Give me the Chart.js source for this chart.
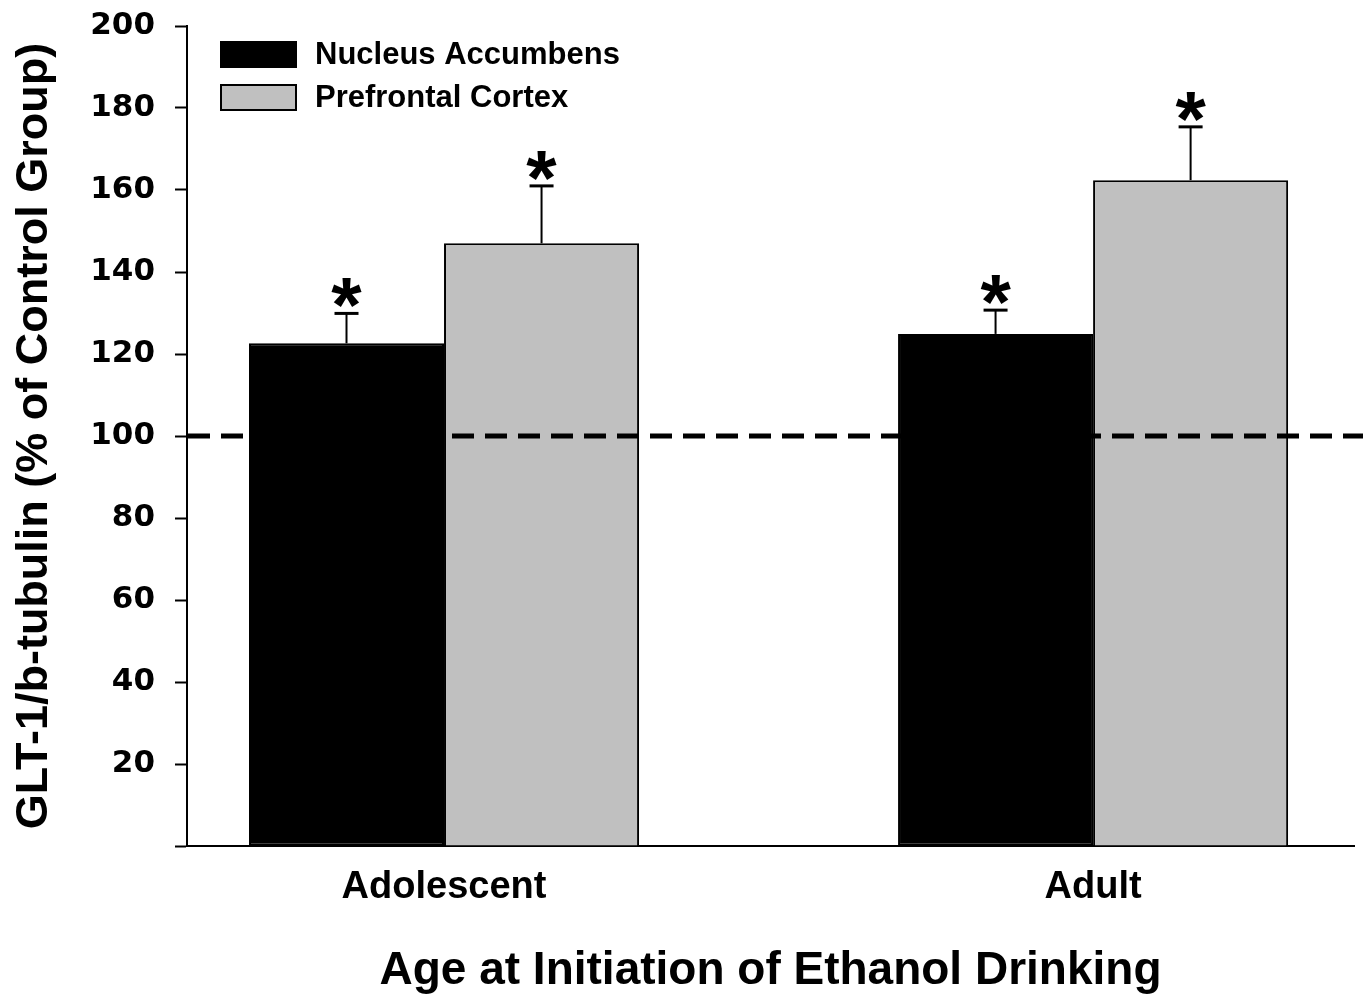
<!DOCTYPE html>
<html>
<head>
<meta charset="utf-8">
<script src="https://cdn.jsdelivr.net/npm/chart.js@4/dist/chart.umd.min.js"></script>
<style>
  html, body { margin: 0; padding: 0; background: #ffffff; }
  #wrap { width: 1363px; height: 994px; position: relative; }
</style>
</head>
<body>
<div id="wrap"><canvas id="c" width="1363" height="994"></canvas></div>
<script>
// ---- data ----
const categories = ['Adolescent', 'Adult'];
const seriesNames = ['Nucleus Accumbens', 'Prefrontal Cortex'];
const nucleusAccumbens = [122.6, 124.9];
const prefrontalCortex = [147.0, 162.4];
const nucleusAccumbensSEM = [7.3, 5.8];
const prefrontalCortexSEM = [14.0, 13.0];
const nucleusAccumbensSig = [true, true];
const prefrontalCortexSig = [true, true];
const yTicks = [0, 20, 40, 60, 80, 100, 120, 140, 160, 180, 200];
const controlLevel = 100;

const FONT = '"Liberation Sans", Arial, sans-serif';

const errs = [nucleusAccumbensSEM, prefrontalCortexSEM];
const sigs = [nucleusAccumbensSig, prefrontalCortexSig];

const overlay = {
  id: 'overlay',
  afterDatasetsDraw(chart) {
    const ctx = chart.ctx;
    const ys = chart.scales.y;
    const area = chart.chartArea;
    ctx.save();
    // error bars + asterisks
    chart.data.datasets.forEach((ds, di) => {
      const meta = chart.getDatasetMeta(di);
      meta.data.forEach((bar, i) => {
        const v = ds.data[i].y;
        const topY = ys.getPixelForValue(v + errs[di][i]);
        ctx.strokeStyle = '#000';
        ctx.lineWidth = 2;
        ctx.beginPath();
        ctx.moveTo(bar.x, bar.y);
        ctx.lineTo(bar.x, topY);
        ctx.stroke();
        ctx.lineWidth = 3;
        ctx.beginPath();
        ctx.moveTo(bar.x - 12, topY);
        ctx.lineTo(bar.x + 12, topY);
        ctx.stroke();
        if (sigs[di][i]) {
          ctx.font = 'bold 78px ' + FONT;
          ctx.fillStyle = '#000';
          ctx.textAlign = 'center';
          ctx.textBaseline = 'alphabetic';
          const m = ctx.measureText('*');
          const base = topY - 5 - m.actualBoundingBoxDescent;
          ctx.fillText('*', bar.x, base);
        }
      });
    });
    // dashed control line
    const yc = ys.getPixelForValue(controlLevel);
    ctx.strokeStyle = '#000';
    ctx.lineWidth = 5;
    ctx.setLineDash([22, 11]);
    ctx.beginPath();
    ctx.moveTo(area.left + 1, yc);
    ctx.lineTo(chart.width, yc);
    ctx.stroke();
    ctx.setLineDash([]);
    // legend
    chart.data.datasets.forEach((ds, di) => {
      const bx = area.left + 34;
      const by = area.top + 16 + di * 43;
      ctx.fillStyle = ds.backgroundColor;
      ctx.fillRect(bx, by, 75, 25);
      ctx.lineWidth = 2;
      ctx.strokeStyle = '#000';
      ctx.strokeRect(bx, by, 75, 25);
      ctx.fillStyle = '#000';
      ctx.font = 'bold 31px ' + FONT;
      ctx.textAlign = 'left';
      ctx.textBaseline = 'middle';
      ctx.fillText(ds.label, bx + 94, by + 13);
    });
    ctx.restore();
  }
};

new Chart(document.getElementById('c'), {
  type: 'bar',
  data: {
    datasets: [
      {
        label: seriesNames[0],
        data: nucleusAccumbens.map((v, i) => ({ x: i, y: v })),
        backgroundColor: '#000000',
        borderColor: '#000000',
        borderWidth: 2,
        borderSkipped: false
      },
      {
        label: seriesNames[1],
        data: prefrontalCortex.map((v, i) => ({ x: i, y: v })),
        backgroundColor: '#c0c0c0',
        borderColor: '#000000',
        borderWidth: 2,
        borderSkipped: 'bottom'
      }
    ]
  },
  options: {
    responsive: false,
    animation: false,
    devicePixelRatio: 1,
    categoryPercentage: 0.601,
    barPercentage: 1.0,
    layout: { padding: { top: 26, right: 9, left: 0, bottom: 0 } },
    plugins: {
      legend: { display: false },
      tooltip: { enabled: false },
      title: { display: false }
    },
    scales: {
      x: {
        type: 'linear',
        offset: false,
        min: -0.396,
        max: 1.402,
        afterBuildTicks: (scale) => { scale.ticks = categories.map((c, i) => ({ value: i })); },
        afterFit: (scale) => { scale.height = 148; scale.paddingLeft = 0; scale.paddingRight = 0; },
        grid: { display: false, drawTicks: false },
        border: { display: true, color: '#000', width: 2 },
        ticks: {
          autoSkip: false,
          maxRotation: 0,
          padding: 19,
          color: '#000',
          font: { family: FONT, size: 38, weight: 'bold' },
          callback: (v) => categories[v] !== undefined ? categories[v] : ''
        },
        title: {
          display: true,
          text: 'Age at Initiation of Ethanol Drinking',
          color: '#000',
          font: { family: FONT, size: 46, weight: 'bold', lineHeight: 1.0 },
          padding: { top: 0, bottom: 0 }
        }
      },
      y: {
        min: 0,
        max: 200,
        afterBuildTicks: (scale) => { scale.ticks = yTicks.map(v => ({ value: v })); },
        afterFit: (scale) => { scale.width = 187; scale.paddingTop = 0; scale.paddingBottom = 0; },
        grid: { display: true, drawOnChartArea: false, drawTicks: true, tickLength: 12, tickWidth: 2, tickColor: '#000', color: '#000' },
        border: { display: true, color: '#000', width: 2 },
        ticks: {
          padding: 20,
          color: '#000',
          font: { family: '"DejaVu Sans", sans-serif', size: 31, weight: 'bold' },
          callback: (v) => v === 0 ? '' : String(v)
        },
        title: {
          display: true,
          text: 'GLT-1/b-tubulin (% of Control Group)',
          color: '#000',
          font: { family: FONT, size: 45, weight: 'bold' },
          padding: { top: 8, bottom: 0 }
        }
      }
    }
  },
  plugins: [overlay]
});
</script>
</body>
</html>
